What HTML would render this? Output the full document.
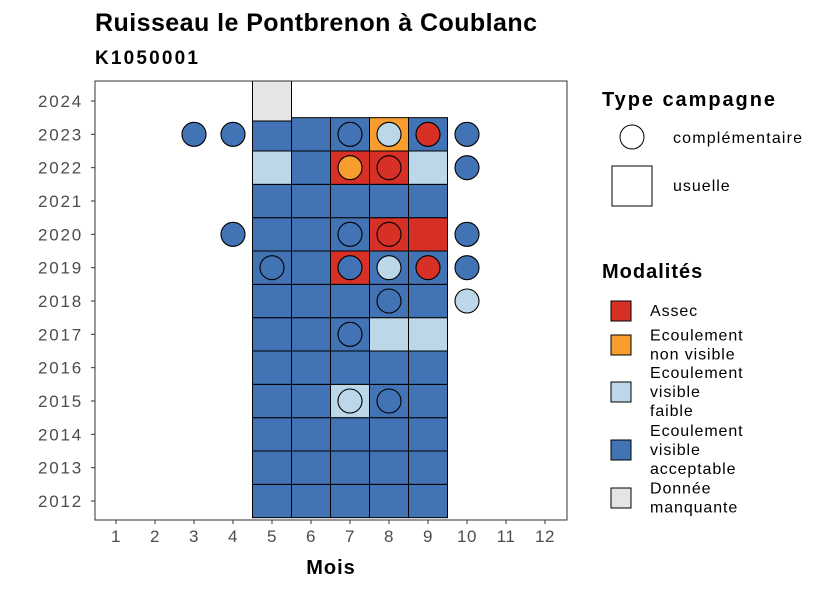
<!DOCTYPE html>
<html><head><meta charset="utf-8"><style>
body{margin:0;background:#fff;}
svg text{font-family:"Liberation Sans",Arial,sans-serif;}
</style></head><body>
<svg id="chart" width="826" height="590" viewBox="0 0 826 590" xmlns="http://www.w3.org/2000/svg">
<text x="95" y="31" font-size="25" font-weight="bold" fill="#000" textLength="442" lengthAdjust="spacing">Ruisseau le Pontbrenon à Coublanc</text>
<text x="95" y="64" font-size="19" font-weight="bold" fill="#000" textLength="103" lengthAdjust="spacing">K1050001</text>
<g id="plot"></g>
<text x="331" y="574" font-size="20" font-weight="bold" text-anchor="middle" letter-spacing="1">Mois</text>
<g>
<text x="602" y="106" font-size="20" font-weight="bold" textLength="173" lengthAdjust="spacing">Type campagne</text>
<circle cx="632" cy="137" r="12" fill="#fff" stroke="#000" stroke-width="1"/>
<text x="673" y="143" font-size="16" textLength="129" lengthAdjust="spacing">complémentaire</text>
<rect x="612" y="166" width="40" height="40" fill="#fff" stroke="#000"/>
<text x="673" y="191" font-size="16" letter-spacing="1">usuelle</text>
</g>
<g id="legend-mod">
<text x="602" y="278" font-size="20" font-weight="bold" letter-spacing="1">Modalités</text>
</g>
</svg>
<script>
const months=[1,2,3,4,5,6,7,8,9,10,11,12];
const yearTicks=[2012,2013,2014,2015,2016,2017,2018,2019,2020,2021,2022,2023,2024];
const modNames=["Assec","Ecoulement non visible","Ecoulement visible faible","Ecoulement visible acceptable","Donnée manquante"];
const modColors=["#d73027","#f99d2f","#bcd7e8","#4273b5","#e5e5e5"];
// usuelle tiles
const tileYears=[2012,2012,2012,2012,2012,2013,2013,2013,2013,2013,2014,2014,2014,2014,2014,2015,2015,2015,2015,2015,2016,2016,2016,2016,2016,2017,2017,2017,2017,2017,2018,2018,2018,2018,2018,2019,2019,2019,2019,2019,2020,2020,2020,2020,2020,2021,2021,2021,2021,2021,2022,2022,2022,2022,2022,2023,2023,2023,2023,2023,2024];
const tileMonths=[5,6,7,8,9,5,6,7,8,9,5,6,7,8,9,5,6,7,8,9,5,6,7,8,9,5,6,7,8,9,5,6,7,8,9,5,6,7,8,9,5,6,7,8,9,5,6,7,8,9,5,6,7,8,9,5,6,7,8,9,5];
const tileMods=[3,3,3,3,3, 3,3,3,3,3, 3,3,3,3,3, 3,3,2,3,3, 3,3,3,3,3, 3,3,3,2,2, 3,3,3,3,3, 3,3,0,3,3, 3,3,3,0,0, 3,3,3,3,3, 2,3,0,0,2, 3,3,3,1,3, 4];
// complementaire points
const ptYears=[2015,2015,2017,2018,2018,2019,2019,2019,2019,2019,2020,2020,2020,2020,2022,2022,2022,2023,2023,2023,2023,2023,2023];
const ptMonths=[7,8,7,8,10,5,7,8,9,10,4,7,8,10,7,8,10,3,4,7,8,9,10];
const ptMods=[2,3,3,3,2,3,3,2,0,3,3,3,0,3,1,0,3,3,3,3,2,0,3];

const NS="http://www.w3.org/2000/svg";
const L=95,R=567,T=81,B=520;
const xs=m=>116+(m-1)*39;
const ys=y=>501-(y-2012)*(400/12);
const cw=39,ch=400/12;
const plot=document.getElementById('plot');
function mk(tag,attrs,parent){const e=document.createElementNS(NS,tag);for(const k in attrs)e.setAttribute(k,attrs[k]);(parent||plot).appendChild(e);return e;}
for(let i=0;i<tileYears.length;i++){
 const h=tileMods[i]===4?40:ch;
 const r=mk('rect',{x:xs(tileMonths[i])-cw/2,y:ys(tileYears[i])-h/2,width:cw,height:h,fill:modColors[tileMods[i]],stroke:'#000','stroke-width':1});
 
 
}
for(let i=0;i<ptYears.length;i++){
 const c=mk('circle',{cx:xs(ptMonths[i]),cy:ys(ptYears[i]),r:12,fill:modColors[ptMods[i]],stroke:'#000','stroke-width':1.1});
 
 
}
const border=mk('rect',{x:L,y:T,width:R-L,height:B-T,fill:'none',stroke:'#333','stroke-width':1});


months.forEach(m=>{
 mk('line',{x1:xs(m),x2:xs(m),y1:B,y2:B+4,stroke:'#333'});
 const t=mk('text',{x:xs(m),y:B+22,'font-size':17,'text-anchor':'middle',fill:'#4d4d4d','letter-spacing':0.5});
 t.textContent=m;
 
 
});
yearTicks.forEach(y=>{
 mk('line',{x1:L-4,x2:L,y1:ys(y),y2:ys(y),stroke:'#333'});
 const t=mk('text',{x:L-12,y:ys(y)+6,'font-size':17,'text-anchor':'end',fill:'#4d4d4d','letter-spacing':1.8});
 t.textContent=y;
 
 
});
const lg=document.getElementById('legend-mod');
const lines=[["Assec"],["Ecoulement","non visible"],["Ecoulement","visible","faible"],["Ecoulement","visible","acceptable"],["Donnée","manquante"]];
const centers=[311,345,392,450,498];
modNames.forEach((n,i)=>{
 const r=mk('rect',{x:611,y:centers[i]-10,width:20,height:20,fill:modColors[i],stroke:'#000'},lg);
 
 
 const ls=lines[i];const y0=centers[i]-(ls.length-1)*9.5+5;
 ls.forEach((s,j)=>{const t=mk('text',{x:650,y:y0+j*19,'font-size':16,'letter-spacing':0.9},lg);t.textContent=s;});
});
</script>
</body></html>
